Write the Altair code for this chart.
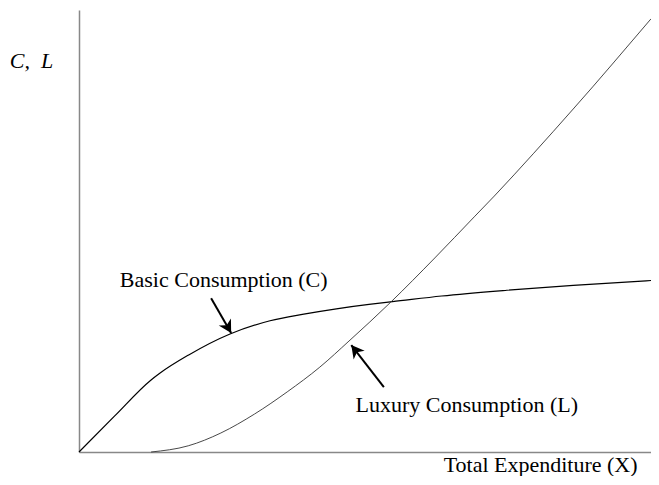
import altair as alt
import pandas as pd

# Basic consumption curve (C)
basic_x = [0, 6.2, 12.6, 14.0, 19.1, 26.4, 33.4, 39.3, 45.0, 50.7, 54.8, 63.4, 74.8, 86.4, 100]
basic_y = [0, 8.1, 16.3, 17.7, 21.9, 26.7, 29.7, 31.2, 32.4, 33.4, 34.0, 35.3, 36.6, 37.7, 38.8]

# Luxury consumption curve (L)
lux_x = [12.6, 19.1, 24.8, 30.7, 36.4, 42.1, 47.2, 54.5, 62.2, 69.1, 72.6, 79.5, 86.4, 89.8, 96.7, 100]
lux_y = [0, 1.4, 4.3, 8.6, 13.6, 19.2, 25.1, 33.9, 43.9, 53.2, 57.9, 67.6, 77.6, 82.6, 93.0, 98.0]

# Text labels
label_text = ["C,\u00a0\u00a0L", "Basic Consumption (C)", "Luxury Consumption (L)", "Total Expenditure (X)"]
label_x = [-8.3, 25.3, 67.8, 80.7]
label_y = [88.5, 38.9, 10.6, -4.5]
label_style = ["italic", "normal", "normal", "normal"]
label_base = ["middle", "middle", "middle", "alphabetic"]

# Arrows
arrow_x = [23.1, 53.3]
arrow_y = [34.8, 14.7]
arrow_x2 = [26.6, 47.6]
arrow_y2 = [26.9, 24.2]
arrow_angle = [150.3, 321.8]

basic = pd.DataFrame({"x": basic_x, "y": basic_y})
lux = pd.DataFrame({"x": lux_x, "y": lux_y})
labels = pd.DataFrame({"t": label_text, "x": label_x, "y": label_y, "s": label_style, "b": label_base})
arrows = pd.DataFrame({"x": arrow_x, "y": arrow_y, "x2": arrow_x2, "y2": arrow_y2, "a": arrow_angle})

xs = alt.Scale(domain=[0, 100], nice=False, zero=False)
ys = alt.Scale(domain=[0, 100], nice=False, zero=False)
xax = alt.Axis(title=None, labels=False, ticks=False, grid=False, domainColor="#888888", domainWidth=1.5)
yax = alt.Axis(title=None, labels=False, ticks=False, grid=False, domainColor="#888888", domainWidth=1.5)

base_line = alt.Chart(basic).mark_line(color="black", strokeWidth=1.2, interpolate="monotone").encode(
    x=alt.X("x:Q", scale=xs, axis=xax),
    y=alt.Y("y:Q", scale=ys, axis=yax),
)
lux_line = alt.Chart(lux).mark_line(color="#333333", strokeWidth=0.9, interpolate="monotone").encode(
    x=alt.X("x:Q", scale=xs),
    y=alt.Y("y:Q", scale=ys),
)

def text_layer(style, base):
    sub = labels[(labels.s == style) & (labels.b == base)]
    return alt.Chart(sub).mark_text(
        font="Liberation Serif", fontSize=22, fontStyle=style, align="center", baseline=base, color="black"
    ).encode(x=alt.X("x:Q", scale=xs), y=alt.Y("y:Q", scale=ys), text="t:N")

text_italic = text_layer("italic", "middle")
text_mid = text_layer("normal", "middle")
text_bottom = text_layer("normal", "alphabetic")

arrow_rule = alt.Chart(arrows).mark_rule(color="black", strokeWidth=2).encode(
    x=alt.X("x:Q", scale=xs), y=alt.Y("y:Q", scale=ys), x2="x2:Q", y2="y2:Q"
)
arrow_head = alt.Chart(arrows).mark_point(
    shape="M0,0 L-0.55,1 L0,0.72 L0.55,1 Z", filled=True, color="black", size=650, opacity=1
).encode(x=alt.X("x2:Q", scale=xs), y=alt.Y("y2:Q", scale=ys), angle=alt.Angle("a:Q", scale=None))

chart = alt.layer(base_line, lux_line, arrow_rule, arrow_head, text_mid, text_bottom, text_italic).properties(
    width=572, height=442,
    autosize=alt.AutoSizeParams(type="none"),
    padding={"left": 71, "top": 2, "right": 0, "bottom": 24},
).configure_view(stroke=None)

chart.save("out.html", embed_options={"renderer": "svg", "actions": False})
